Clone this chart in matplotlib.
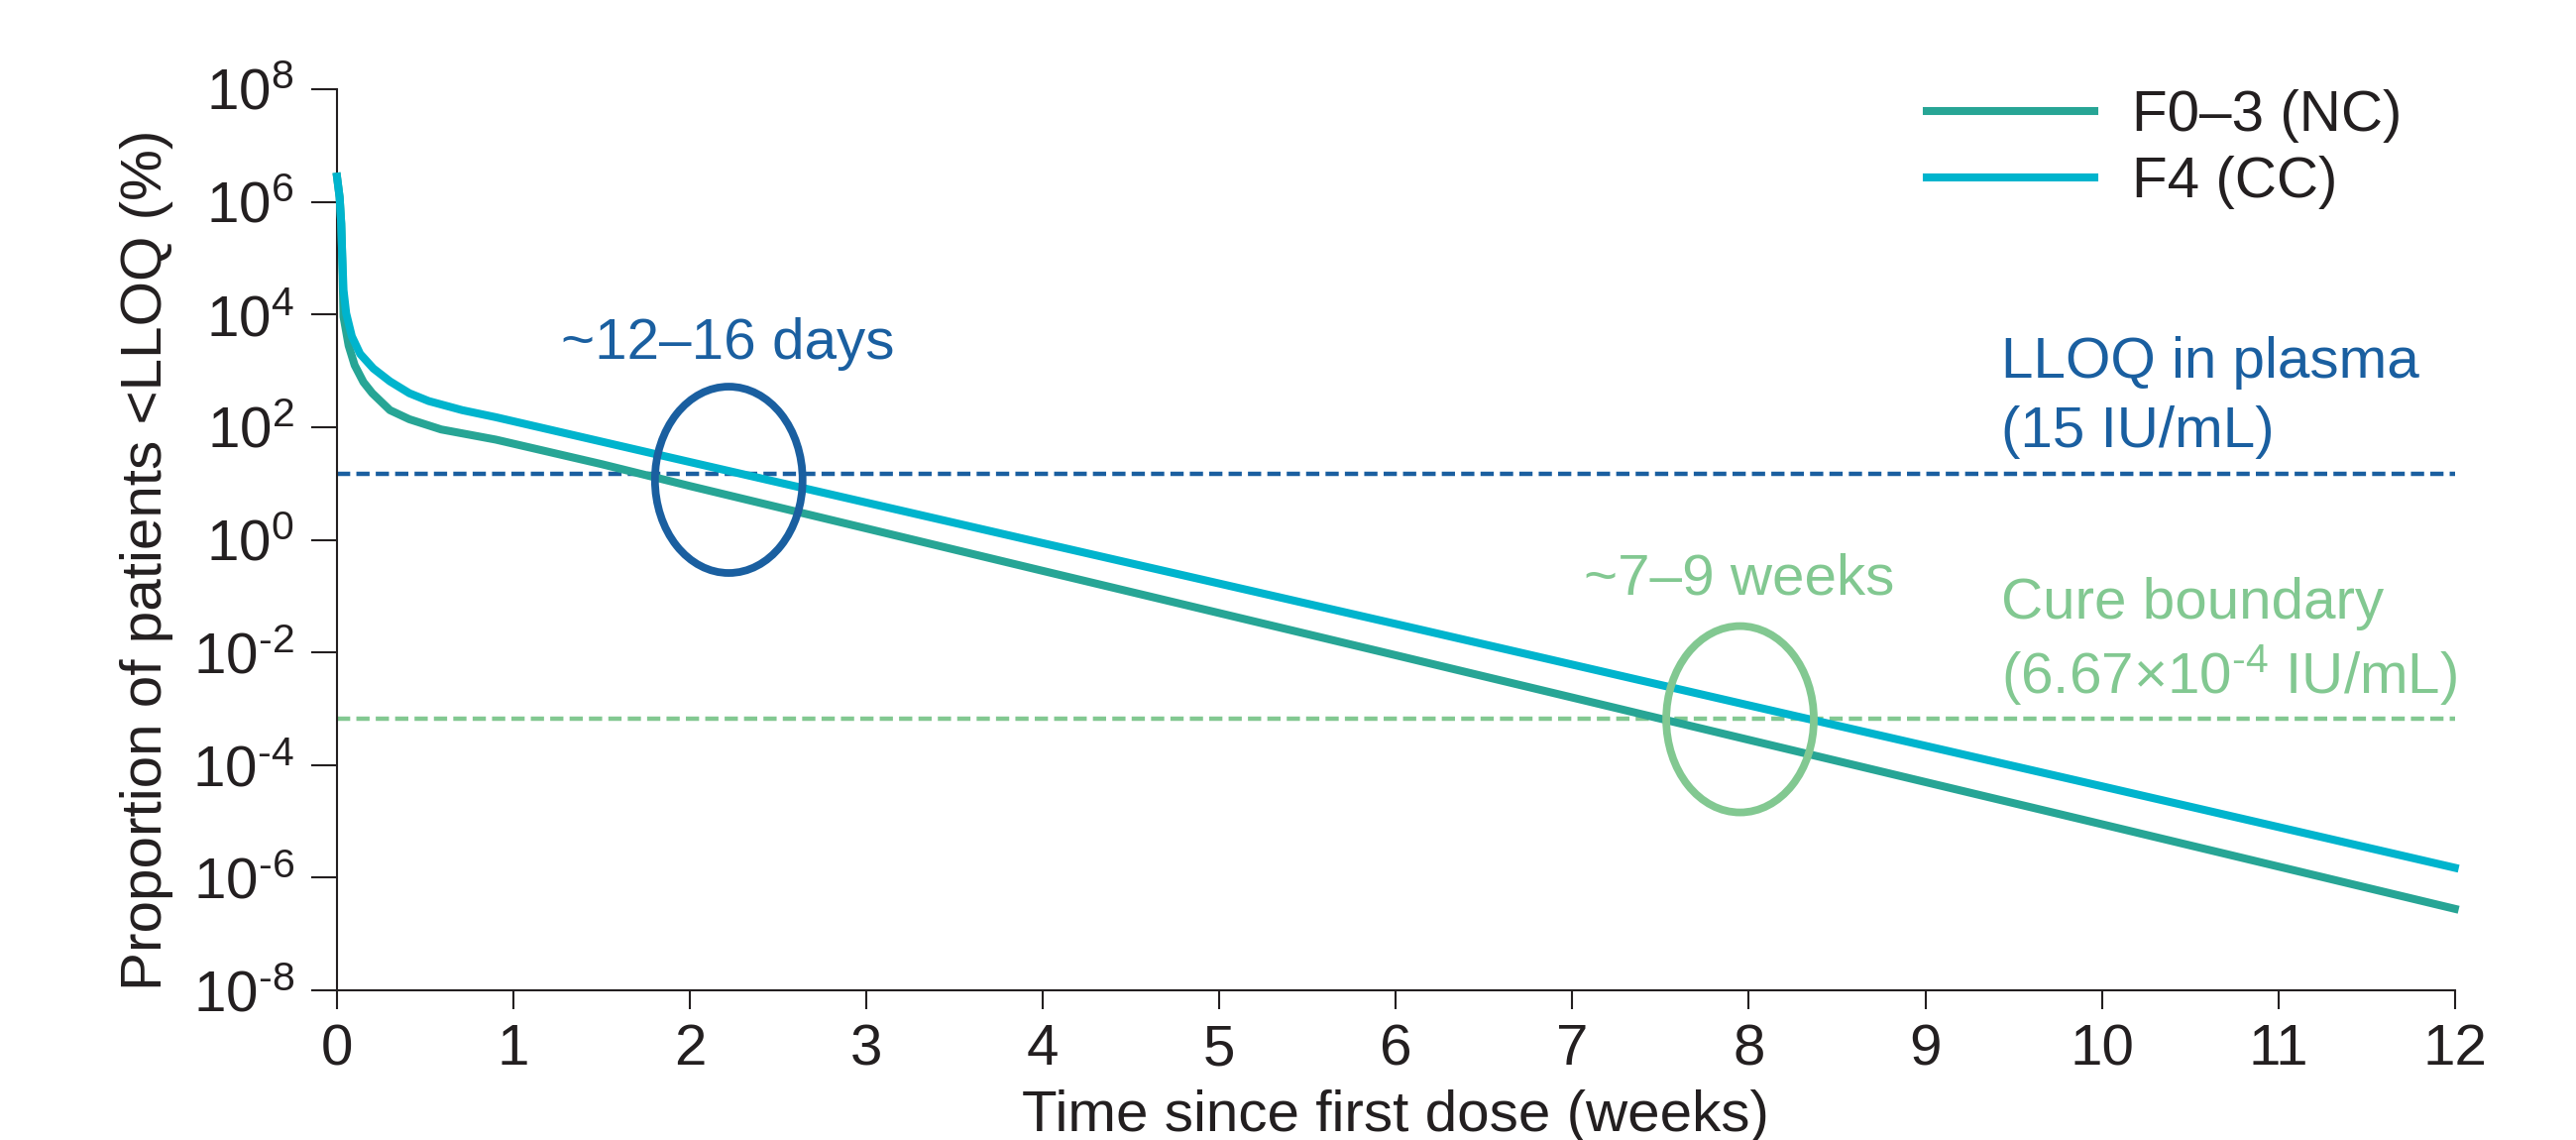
import matplotlib
matplotlib.use('Agg')
import matplotlib.pyplot as plt
from matplotlib.patches import Ellipse
from matplotlib.ticker import NullLocator

plt.rcParams['font.family'] = ['Liberation Sans', 'DejaVu Sans']
plt.rcParams['mathtext.fontset'] = 'custom'
plt.rcParams['mathtext.rm'] = 'Liberation Sans'
plt.rcParams['mathtext.it'] = 'Liberation Sans:italic'
plt.rcParams['mathtext.bf'] = 'Liberation Sans:bold'

# modelled proportion of patients <LLOQ (%) vs weeks since first dose
weeks_f03 = [0, 0.015, 0.024, 0.030, 0.037, 0.066, 0.10, 0.15, 0.20, 0.30,
             0.41, 0.59, 0.90, 1.5, 2, 4, 6, 8, 10, 12]
prop_f03 = [2.8e6, 1.2e6, 4.1e5, 9e4, 9.1e3, 2.8e3, 1.26e3, 6.3e2, 4.0e2, 2.0e2,
            1.38e2, 91, 60, 22, 9.0, 0.28, 8.9e-3, 2.8e-4, 8.9e-6, 2.8e-7]

weeks_f4 = [0, 0.015, 0.024, 0.030, 0.037, 0.052, 0.084, 0.131, 0.206, 0.30,
            0.41, 0.52, 0.71, 0.90, 2, 4, 6, 8, 10, 12]
prop_f4 = [2.8e6, 1.2e6, 4.1e5, 1.05e5, 2.7e4, 1.05e4, 4.1e3, 2.0e3, 1.1e3, 6.5e2,
           4.0e2, 2.9e2, 2.0e2, 1.5e2, 24, 0.87, 0.032, 1.15e-3, 4.2e-5, 1.5e-6]

series_labels = ['F0–3 (NC)', 'F4 (CC)']

lloq_level = 15          # LLOQ in plasma
cure_level = 6.67e-4     # cure boundary

# time windows where the curves cross each threshold
window_weeks = [2.22, 7.95]
window_levels = [11.6, 6.5e-4]
window_labels = ['~12–16 days', '~7–9 weeks']

y_exponents = [8, 6, 4, 2, 0, -2, -4, -6, -8]
x_ticks = list(range(0, 13))

TEXT = '#231f20'
NC_COLOR = '#27a595'
CC_COLOR = '#00b4cd'
BLUE = '#1a5fa0'
GREEN = '#82c891'
FS = 42

fig = plt.figure(figsize=(25.99, 11.5), dpi=100)
ax = fig.add_axes([0.13082, 0.13130, 0.82212, 0.79044])
ax.set_yscale('log')
ax.set_xlim(0, 12)
ax.set_ylim(1e-8, 1e8)

# threshold lines
ax.axhline(lloq_level, color=BLUE, lw=3.2, linestyle=(0, (3.0, 1.4)), zorder=2)
ax.axhline(cure_level, color=GREEN, lw=3.2, linestyle=(0, (3.0, 1.4)), zorder=2)

ax.plot(weeks_f03, prop_f03, color=NC_COLOR, lw=5.8, label=series_labels[0],
        clip_on=False, zorder=3)
ax.plot(weeks_f4, prop_f4, color=CC_COLOR, lw=5.8, label=series_labels[1],
        clip_on=False, zorder=4)

# rings around the crossing windows
ring_colors = [BLUE, GREEN]
for wk, lvl, col in zip(window_weeks, window_levels, ring_colors):
    cx, cy = ax.transAxes.inverted().transform(ax.transData.transform((wk, lvl)))
    ax.add_patch(Ellipse((cx, cy), 0.0697, 0.2068, transform=ax.transAxes,
                         fill=False, ec=col, lw=5.6, clip_on=False, zorder=5))

ax.text(2.213, 10**3.221, window_labels[0], color=BLUE, fontsize=FS,
        ha='center', va='baseline')
ax.text(7.947, 10**-0.966, window_labels[1], color=GREEN, fontsize=FS,
        ha='center', va='baseline')

# threshold labels, anchored on the baseline of their last line
ax.text(9.43, 10**1.648, 'LLOQ in plasma\n(15 IU/mL)', color=BLUE, fontsize=FS,
        ha='left', va='baseline', linespacing=1.38)
ax.text(9.43, 10**-2.716, 'Cure boundary\n(6.67×10$^{\\text{-4}}$ IU/mL)', color=GREEN,
        fontsize=FS, ha='left', va='baseline', linespacing=1.24)

# axes styling
for side in ['top', 'right']:
    ax.spines[side].set_visible(False)
for side in ['left', 'bottom']:
    ax.spines[side].set_color(TEXT)
    ax.spines[side].set_linewidth(1.5)

ax.set_yticks([10.0**e for e in y_exponents])
ax.set_yticklabels(['$10^{%d}$' % e if e >= 0 else '$10^{\\text{%d}}$' % e
                    for e in y_exponents])
ax.yaxis.set_minor_locator(NullLocator())
ax.set_xticks(x_ticks)
ax.set_xticklabels([str(t) for t in x_ticks])
ax.tick_params(axis='y', length=19, width=1.5, pad=12, labelsize=FS,
               colors=TEXT)
ax.tick_params(axis='x', length=14, width=1.5, pad=10, labelsize=FS,
               colors=TEXT)

fig.text(148 / 2599, 1 - 565 / 1150, 'Proportion of patients <LLOQ (%)',
         rotation=90, ha='center', va='center', fontsize=FS, color=TEXT)
fig.text(1408 / 2599, 1 - 1141 / 1150, 'Time since first dose (weeks)',
         ha='center', va='baseline', fontsize=FS, color=TEXT)

leg = ax.legend(loc='upper left', bbox_to_anchor=(0.748, 0.9216),
                bbox_transform=fig.transFigure, frameon=False, fontsize=FS,
                handlelength=2.9, handletextpad=0.65, labelspacing=0.22,
                borderpad=0, borderaxespad=0)
for t in leg.get_texts():
    t.set_color(TEXT)

fig.savefig('out.png', dpi=100)
